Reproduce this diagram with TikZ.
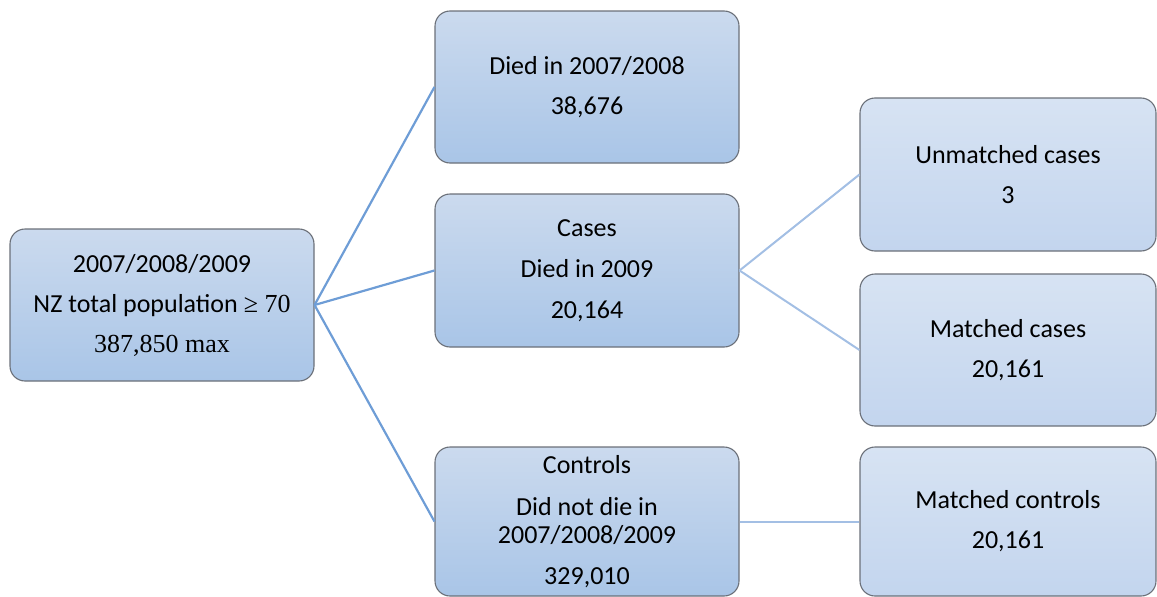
\documentclass[tikz,border=0pt]{standalone}
\usepackage{fontspec}
\setmainfont{Carlito}
\newfontfamily\tnr{Liberation Serif}
\definecolor{bordergray}{HTML}{6B7079}
\definecolor{midtop}{HTML}{CBDAEE}
\definecolor{midbot}{HTML}{A9C5E7}
\definecolor{rtop}{HTML}{D7E3F3}
\definecolor{rbot}{HTML}{C3D5EE}
\definecolor{lineA}{HTML}{6E9DD6}
\definecolor{lineB}{HTML}{A3BFE4}
\tikzset{
  boxbase/.style={draw=bordergray, line width=1.1pt, rounded corners=15pt,
    align=center, inner sep=0pt, font=\fontsize{26}{29}\selectfont},
  midbox/.style={boxbase, top color=midtop, bottom color=midbot, minimum width=304pt},
  rightbox/.style={boxbase, top color=rtop, bottom color=rbot, minimum width=296pt},
  linkA/.style={draw=lineA, line width=2.2pt},
  linkB/.style={draw=lineB, line width=2pt},
}
\begin{document}
\begin{tikzpicture}[x=1pt,y=-1pt]
\useasboundingbox (0,0) rectangle (1157,597);
\node[midbox, minimum height=152pt] (L) at (162,305)
  {2007/2008/2009\\[11pt] NZ total population {\tnr ≥ 70}\\[11pt] {\tnr 387,850 max}};
\node[midbox, minimum height=152pt] (D) at (587,87)
  {Died in 2007/2008\\[11pt] 38,676};
\node[midbox, minimum height=153pt] (C) at (587,270.5)
  {Cases\\[12pt] Died in 2009\\[12pt] 20,164};
\node[midbox, minimum height=149pt] (K) at (587,521.5)
  {Controls\\[13pt] Did not die in\\[-1pt] 2007/2008/2009\\[12pt] 329,010};
\node[rightbox, minimum height=153pt] (U) at (1008,174.5)
  {Unmatched cases\\[11pt] 3};
\node[rightbox, minimum height=152pt] (M) at (1008,350)
  {Matched cases\\[11pt] 20,161};
\node[rightbox, minimum height=149pt] (MC) at (1008,521.5)
  {Matched controls\\[11pt] 20,161};
\draw[linkA] (L.east) -- (D.west);
\draw[linkA] (L.east) -- (C.west);
\draw[linkA] (L.east) -- (K.west);
\draw[linkB] (C.east) -- (U.west);
\draw[linkB] (C.east) -- (M.west);
\draw[linkB] (K.east) -- (MC.west);
\end{tikzpicture}
\end{document}
